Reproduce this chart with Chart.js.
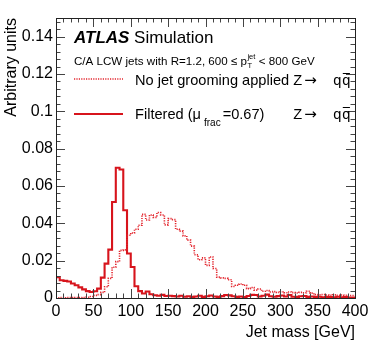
<!DOCTYPE html>
<html><head><meta charset="utf-8">
<script src="https://cdn.jsdelivr.net/npm/chart.js@4/dist/chart.umd.min.js"></script>
<style>html,body{margin:0;padding:0;background:#fff;}canvas{display:block;}</style>
</head><body>
<canvas id="c" width="374" height="355"></canvas>
<script>
// ---- data (5 GeV bins, 0-400 GeV) ----
const binWidth = 5;
const binLowEdges = Array.from({length: 80}, (_, i) => i * binWidth);
const ungroomed = [
 0.0002,0.0001,0.0002,0.0001,0.0002,0.0002,0.0003,0.0002,0.0003,0.0004,
 0.0008,0.0014,0.0018,0.0030,0.0060,0.0105,0.0165,0.0195,0.0255,0.0258,
 0.0336,0.0348,0.0368,0.0390,0.0448,0.0418,0.0445,0.0432,0.0458,0.0445,
 0.0392,0.0425,0.0420,0.0368,0.0358,0.0333,0.0310,0.0278,0.0232,0.0205,
 0.0215,0.0175,0.0220,0.0158,0.0112,0.0108,0.0105,0.0098,0.0062,0.0068,
 0.0075,0.0068,0.0050,0.0056,0.0042,0.0048,0.0036,0.0040,0.0032,0.0034,
 0.0030,0.0033,0.0028,0.0032,0.0029,0.0027,0.0030,0.0028,0.0036,0.0026,
 0.0018,0.0017,0.0019,0.0016,0.0015,0.0017,0.0014,0.0016,0.0015,0.0013];
const filtered = [
 0.0070,0.0112,0.0095,0.0092,0.0088,0.0078,0.0068,0.0057,0.0046,0.0037,
 0.0032,0.0036,0.0050,0.0109,0.0184,0.0259,0.0514,0.0698,0.0688,0.0470,
 0.0238,0.0166,0.0063,0.0037,0.0024,0.0035,0.0020,0.0015,0.0012,0.0017,
 0.0011,0.0012,0.0010,0.0008,0.0012,0.0007,0.0009,0.0006,0.0008,0.0012,
 0.0006,0.0009,0.0013,0.0008,0.0006,0.0010,0.0016,0.0014,0.0009,0.0006,
 0.0008,0.0005,0.0011,0.0017,0.0016,0.0008,0.0012,0.0018,0.0009,0.0007,
 0.0010,0.0013,0.0008,0.0016,0.0007,0.0006,0.0009,0.0011,0.0006,0.0008,
 0.0005,0.0007,0.0004,0.0006,0.0005,0.0004,0.0007,0.0004,0.0005,0.0003];
const xTicks = [0,50,100,150,200,250,300,350,400];
const yTicks = [0,0.02,0.04,0.06,0.08,0.1,0.12,0.14];
const yTickLabels = ["0","0.02","0.04","0.06","0.08","0.1","0.12","0.14"];
const xTitle = "Jet mass [GeV]";
const yTitle = "Arbitrary units";
const seriesNames = ["No jet grooming applied", "Filtered"];

const FONT = "'Liberation Sans', Arial, Helvetica, sans-serif";

function toSteps(vals) {
  const pts = binLowEdges.map((e, i) => ({x: e, y: vals[i]}));
  pts.push({x: binLowEdges[binLowEdges.length-1] + binWidth, y: vals[vals.length-1]});
  return pts;
}

const decor = {
  id: 'decor',
  afterDraw(chart) {
    const {ctx, chartArea: a, scales: {x, y}} = chart;
    ctx.save();
    // ticks
    ctx.strokeStyle = '#444';
    ctx.lineWidth = 1;
    ctx.beginPath();
    for (let k = 0; k <= 40; k++) {
      const v = k * 10;
      const px = Math.round(x.getPixelForValue(v)) + 0.5;
      const len = (v % 50 === 0) ? 9 : 4.5;
      ctx.moveTo(px, a.bottom); ctx.lineTo(px, a.bottom - len);
      ctx.moveTo(px, a.top); ctx.lineTo(px, a.top + len);
    }
    for (let k = 0; k <= 37; k++) {
      const v = k * 0.004;
      const py = Math.round(y.getPixelForValue(v)) + 0.5;
      const len = (k % 5 === 0) ? 9 : 4.5;
      ctx.moveTo(a.left, py); ctx.lineTo(a.left + len, py);
      ctx.moveTo(a.right, py); ctx.lineTo(a.right - len, py);
    }
    ctx.stroke();
    // frame
    ctx.strokeStyle = '#222';
    ctx.strokeRect(Math.round(a.left) + 0.5, Math.round(a.top) + 0.5,
                   Math.round(a.right - a.left), Math.round(a.bottom - a.top));

    ctx.fillStyle = '#000';
    ctx.textBaseline = 'alphabetic';
    // ATLAS Simulation
    ctx.font = 'italic bold 17px ' + FONT;
    ctx.fillText('ATLAS', 74, 43);
    let w = ctx.measureText('ATLAS').width;
    ctx.font = '17px ' + FONT;
    ctx.fillText(' Simulation', 74 + w, 43);

    // subtitle
    let cx = 74; const sb = 65;
    ctx.font = '11.6px ' + FONT;
    const part1 = 'C/A LCW jets with R=1.2, 600 \u2264 p';
    ctx.fillText(part1, cx, sb); cx += ctx.measureText(part1).width;
    ctx.font = '7.5px ' + FONT;
    ctx.fillText('T', cx + 0.5, sb + 3);
    ctx.fillText('jet', cx + 0.5, sb - 6.5);
    cx += ctx.measureText('jet').width + 4;
    ctx.font = '11.6px ' + FONT;
    ctx.fillText('< 800 GeV', cx, sb);

    // legend
    const ds = chart.data.datasets;
    const rows = [79, 114];
    rows.forEach((ry, i) => {
      const d = ds[i];
      ctx.save();
      ctx.strokeStyle = d.borderColor;
      ctx.lineWidth = d.borderWidth;
      ctx.setLineDash(d.borderDash || []);
      ctx.beginPath(); ctx.moveTo(74, ry); ctx.lineTo(123, ry); ctx.stroke();
      ctx.restore();
    });
    ctx.fillStyle = '#000';
    const lf = '14.6px ' + FONT;
    function zqq(startX, base) {
      ctx.font = lf;
      ctx.fillText('Z', startX, base);
      ctx.font = "15px 'DejaVu Sans', sans-serif";
      ctx.fillText('\u2192', startX + 11, base);
      ctx.font = lf;
      const qx = startX + 40;
      const qw = ctx.measureText('q').width;
      ctx.fillText('q', qx, base);
      ctx.fillText('q', qx + qw + 1, base);
      ctx.save(); ctx.strokeStyle = '#000'; ctx.lineWidth = 1;
      ctx.beginPath(); ctx.moveTo(qx + qw + 1.5, base - 11.5); ctx.lineTo(qx + 2 * qw + 0.5, base - 11.5); ctx.stroke();
      ctx.restore();
    }
    // row 1
    ctx.font = lf;
    let t1 = seriesNames[0];
    ctx.fillText(t1, 135, 85);
    const zX = Math.max(135 + ctx.measureText(t1 + ' ').width, 290);
    zqq(zX, 85);
    // row 2
    ctx.font = lf;
    let t2 = seriesNames[1] + ' (\u03bc';
    let x2 = 135;
    ctx.fillText(t2, x2, 119); x2 += ctx.measureText(t2).width + 2;
    ctx.font = '10px ' + FONT;
    ctx.fillText('frac', x2 + 1, 126); x2 += ctx.measureText('frac').width + 3;
    ctx.font = lf;
    const t3 = '=0.67)';
    ctx.fillText(t3, x2, 119); x2 += ctx.measureText(t3).width;
    zqq(Math.max(zX, x2 + 5), 119);
    ctx.restore();
  }
};

new Chart(document.getElementById('c'), {
  type: 'line',
  data: {
    datasets: [
      { label: seriesNames[0], data: toSteps(ungroomed), stepped: 'after',
        borderColor: '#e3262e', borderWidth: 1.6, borderDash: [1.2, 1.2],
        pointRadius: 0, fill: false },
      { label: seriesNames[1], data: toSteps(filtered), stepped: 'after',
        borderColor: '#d7141c', borderWidth: 2.1,
        pointRadius: 0, fill: false }
    ]
  },
  options: {
    responsive: false, animation: false, events: [],
    layout: { padding: { top: 18, right: 19, left: 0, bottom: 0 } },
    plugins: { legend: { display: false }, tooltip: { enabled: false } },
    scales: {
      x: {
        type: 'linear', min: 0, max: 400,
        afterBuildTicks: s => { s.ticks = xTicks.map(v => ({value: v})); },
        afterFit: s => { s.height = 57; },
        grid: { display: false, drawTicks: false }, border: { display: false },
        ticks: { font: { family: FONT, size: 16 }, color: '#000', padding: 4, maxRotation: 0,
                 callback: v => String(v) },
        title: { display: true, text: xTitle, align: 'end', color: '#000',
                 font: { family: FONT, size: 16 }, padding: { top: 0, bottom: 13 } }
      },
      y: {
        type: 'linear', min: 0, max: 0.15,
        afterBuildTicks: s => { s.ticks = yTicks.map(v => ({value: v})); },
        afterFit: s => { s.width = 56; },
        grid: { display: false, drawTicks: false }, border: { display: false },
        ticks: { font: { family: FONT, size: 16 }, color: '#000', padding: 3,
                 callback: (v, i) => yTickLabels[i] },
        title: { display: true, text: yTitle, align: 'end', color: '#000',
                 font: { family: FONT, size: 16 }, padding: { top: 2, bottom: 0 } }
      }
    }
  },
  plugins: [decor]
});
</script>
</body></html>
